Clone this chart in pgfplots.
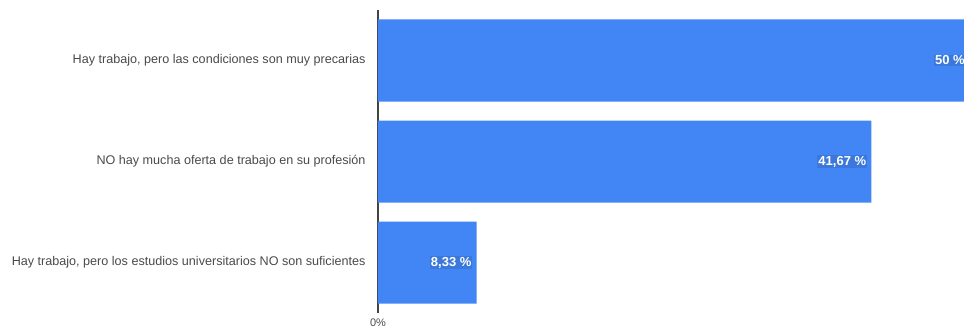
\documentclass[border=0pt]{standalone}
\usepackage{pgfplots}
\pgfplotsset{compat=1.18}
\usepackage{pgfplotstable}
\usepackage{fontspec}
\setmainfont{Liberation Sans}
\definecolor{barblue}{HTML}{4285F4}
\definecolor{lblbg}{HTML}{3B78DA}
\definecolor{txtgray}{HTML}{4A4A4A}
\definecolor{axgray}{HTML}{444444}
\pgfplotstableread{
x y lab
50 0 50
41.67 1 41,67
8.33 2 8,33
}\datatable
\begin{document}
\begin{tikzpicture}
\begin{axis}[
  name=ax,
  scale only axis,
  width=592pt, height=303pt,
  xbar, bar width=82pt, bar shift=0pt,
  xmin=0, xmax=50,
  ymin=-0.5, ymax=2.5, y dir=reverse,
  axis lines=left,
  x axis line style={draw=none},
  y axis line style={draw=axgray, line width=1.3pt, -},
  xtick={0}, xticklabels={0\%},
  ytick={0,1,2},
  yticklabels={Hay trabajo{,} pero las condiciones son muy precarias, NO hay mucha oferta de trabajo en su profesión, Hay trabajo{,} pero los estudios universitarios NO son suficientes},
  major tick length=0pt,
  yticklabel style={font=\fontsize{12.6}{14}\selectfont, text=txtgray, xshift=-9pt},
  xticklabel style={font=\fontsize{11}{13}\selectfont, text=txtgray, yshift=-2pt},
  /pgf/number format/assume math mode=true,
  nodes near coords={\pgfplotspointmeta~\%},
  point meta=explicit symbolic,
  every node near coord/.append style={anchor=east, xshift=-4pt, text=white, font=\bfseries\fontsize{13}{15}\selectfont, fill=lblbg, inner sep=1pt},
  clip=false,
]
\addplot[fill=barblue, draw=none] table[x=x, y=y, meta=lab] {\datatable};
\end{axis}
\pgfresetboundingbox
\path ([shift={(-378pt,-18pt)}]ax.south west) rectangle ([shift={(-6pt,10pt)}]ax.north east);
\end{tikzpicture}
\end{document}
